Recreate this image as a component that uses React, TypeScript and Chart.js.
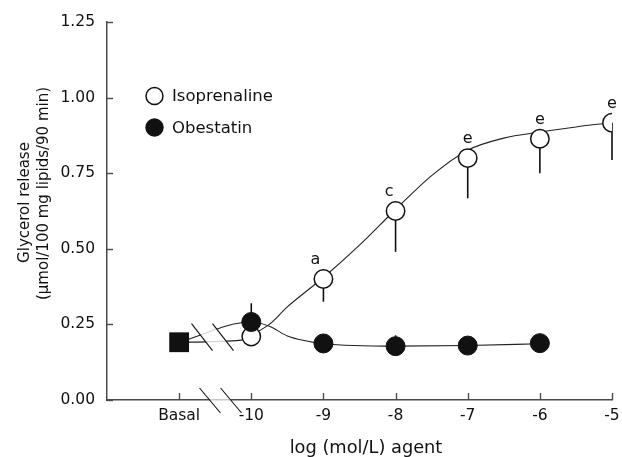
import React, { useEffect, useRef } from "react";
import { Chart, registerables } from "chart.js";

Chart.register(...registerables);

const FONT = "'DejaVu Sans', Verdana, sans-serif";
const INK = "#111";
const AXIS = "#4a4a4a";

// Axis ticks
const xTicks = [-11, -10, -9, -8, -7, -6, -5];
const xTickLabels = ["Basal", "-10", "-9", "-8", "-7", "-6", "-5"];
const yTicks = [0, 0.25, 0.5, 0.75, 1.0, 1.25];
const yTickLabels = ["0.00", "0.25", "0.50", "0.75", "1.00", "1.25"];

// Isoprenaline (open circles)
const isoLog = [-10, -9, -8, -7, -6, -5];
const isoMean = [0.21, 0.4, 0.625, 0.8, 0.864, 0.917];
const isoSem = [0, 0.075, 0.135, 0.133, 0.114, 0.123];
const isoSig = ["", "a", "c", "e", "e", "e"];

// Obestatin (filled circles)
const obeLog = [-10, -9, -8, -7, -6];
const obeMean = [0.258, 0.187, 0.178, 0.18, 0.188];
const obeSem = [0.062, 0, 0.036, 0, 0];

// Basal (filled square)
const basalLog = [-11];
const basalMean = [0.191];

// Fitted curves
const isoFitX = [-11, -10.14, -10, -9.75, -9.5, -9.25, -9, -8.5, -8, -7.5, -7, -6.5, -6, -5.5, -5];
const isoFitY = [0.191, 0.198, 0.215, 0.25, 0.308, 0.357, 0.405, 0.512, 0.63, 0.742, 0.826, 0.866, 0.886, 0.903, 0.917];
const obeFitX = [-11, -10, -9.75, -9.5, -9.25, -9, -8, -7, -6];
const obeFitY = [0.191, 0.258, 0.244, 0.212, 0.196, 0.186, 0.178, 0.18, 0.186];

const legendLabels = ["Isoprenaline", "Obestatin"];
const xTitle = "log (mol/L) agent";
const yTitle = ["Glycerol release", "(\u03bcmol/100 mg lipids/90 min)"];

// Break marks positions (in axis units)
const breakDataX = [-10.683, -10.392];
const breakDataY = 0.208;
const breakAxisX = [-10.572, -10.28];

const pts = (xs: number[], ys: number[]) => xs.map((x, i) => ({ x, y: ys[i] }));

const decorPlugin = {
  id: "decor",
  beforeDatasetsDraw(chart: any) {
    const { ctx, scales } = chart;
    const x = scales.x;
    const y = scales.y;
    ctx.save();
    ctx.strokeStyle = INK;
    ctx.lineWidth = 1.6;
    isoLog.forEach((d, i) => {
      if (!isoSem[i]) return;
      const px = x.getPixelForValue(d);
      ctx.beginPath();
      ctx.moveTo(px, y.getPixelForValue(isoMean[i]));
      ctx.lineTo(px, y.getPixelForValue(isoMean[i] - isoSem[i]));
      ctx.stroke();
    });
    obeLog.forEach((d, i) => {
      if (!obeSem[i]) return;
      const px = x.getPixelForValue(d);
      ctx.beginPath();
      ctx.moveTo(px, y.getPixelForValue(obeMean[i]));
      ctx.lineTo(px, y.getPixelForValue(obeMean[i] + obeSem[i]));
      ctx.stroke();
    });
    ctx.restore();
  },
  afterDatasetsDraw(chart: any) {
    const { ctx, scales } = chart;
    const x = scales.x;
    const y = scales.y;
    // fade the connecting lines inside the break
    const bx0 = x.getPixelForValue(breakDataX[0]);
    const bx1 = x.getPixelForValue(breakDataX[1]);
    const by = y.getPixelForValue(breakDataY);
    ctx.save();
    ctx.fillStyle = "rgba(255,255,255,0.8)";
    ctx.beginPath();
    ctx.moveTo(bx0 - 10, by - 13);
    ctx.lineTo(bx1 - 10, by - 13);
    ctx.lineTo(bx1 + 10, by + 13);
    ctx.lineTo(bx0 + 10, by + 13);
    ctx.closePath();
    ctx.fill();
    ctx.restore();
  },
  afterDraw(chart: any) {
    const { ctx, scales, chartArea } = chart;
    const x = scales.x;
    const y = scales.y;
    ctx.save();
    // break slashes on the data lines
    ctx.strokeStyle = INK;
    ctx.lineWidth = 1.1;
    const by = y.getPixelForValue(breakDataY);
    breakDataX.forEach((v) => {
      const px = x.getPixelForValue(v);
      ctx.beginPath();
      ctx.moveTo(px - 10.5, by - 13.5);
      ctx.lineTo(px + 10.5, by + 13.5);
      ctx.stroke();
    });
    // axis break
    const ax0 = x.getPixelForValue(breakAxisX[0]);
    const ax1 = x.getPixelForValue(breakAxisX[1]);
    const ay = chartArea.bottom;
    ctx.strokeStyle = "rgba(255,255,255,0.7)";
    ctx.lineWidth = 2;
    ctx.beginPath();
    ctx.moveTo(ax0, ay);
    ctx.lineTo(ax1, ay);
    ctx.stroke();
    ctx.strokeStyle = INK;
    ctx.lineWidth = 1.1;
    [ax0, ax1].forEach((px) => {
      ctx.beginPath();
      ctx.moveTo(px - 10.5, ay - 12);
      ctx.lineTo(px + 10.5, ay + 13);
      ctx.stroke();
    });
    // inward tick marks
    ctx.strokeStyle = AXIS;
    ctx.lineWidth = 1.4;
    xTicks.forEach((v) => {
      const px = Math.round(x.getPixelForValue(v)) + 0.5;
      ctx.beginPath();
      ctx.moveTo(px, chartArea.bottom);
      ctx.lineTo(px, chartArea.bottom - 7);
      ctx.stroke();
    });
    yTicks.forEach((v) => {
      const py = Math.round(y.getPixelForValue(v)) + 0.5;
      ctx.beginPath();
      ctx.moveTo(chartArea.left, py);
      ctx.lineTo(chartArea.left + 6, py);
      ctx.stroke();
    });
    // significance letters
    ctx.fillStyle = INK;
    ctx.font = `16px ${FONT}`;
    ctx.textAlign = "center";
    ctx.textBaseline = "alphabetic";
    const sigShift: Record<string, number> = { a: -8, c: -6.5, e: 0 };
    isoLog.forEach((d, i) => {
      const s = isoSig[i];
      if (!s) return;
      ctx.fillText(s, x.getPixelForValue(d) + (sigShift[s] || 0), y.getPixelForValue(isoMean[i]) - 15);
    });
    // legend
    ctx.font = `16.5px ${FONT}`;
    ctx.textAlign = "left";
    ctx.textBaseline = "middle";
    const lx = chartArea.left + 47.5;
    const ly = [chartArea.top + 74, chartArea.top + 105.5];
    ctx.lineWidth = 1.5;
    ctx.strokeStyle = INK;
    ctx.fillStyle = "#fff";
    ctx.beginPath();
    ctx.arc(lx, ly[0], 8.5, 0, Math.PI * 2);
    ctx.fill();
    ctx.stroke();
    ctx.fillStyle = INK;
    ctx.beginPath();
    ctx.arc(lx, ly[1], 9.2, 0, Math.PI * 2);
    ctx.fill();
    ctx.fillText(legendLabels[0], lx + 17.5, ly[0] + 1);
    ctx.fillText(legendLabels[1], lx + 17.5, ly[1] + 1);
    // axis titles
    ctx.textAlign = "center";
    ctx.textBaseline = "alphabetic";
    ctx.font = `17.8px ${FONT}`;
    ctx.fillText(xTitle, (chartArea.left + chartArea.right) / 2 + 6.5, 453);
    ctx.font = `15px ${FONT}`;
    const yMid = (chartArea.top + chartArea.bottom) / 2;
    const lineCenters = [yMid - 8.5, yMid - 17.5];
    const baselines = [28.5, 47.5];
    yTitle.forEach((t, i) => {
      ctx.save();
      ctx.translate(baselines[i], lineCenters[i]);
      ctx.rotate(-Math.PI / 2);
      ctx.fillText(t, 0, 0);
      ctx.restore();
    });
    ctx.restore();
  },
};

export default function App() {
  const ref = useRef<HTMLCanvasElement | null>(null);

  useEffect(() => {
    document.body.style.margin = "0";
    const canvas = ref.current;
    if (!canvas) return;
    const tickFont = { family: FONT, size: 15.5 };
    const chart = new Chart(canvas, {
      type: "line",
      data: {
        datasets: [
          {
            label: "Basal",
            data: pts(basalLog, basalMean),
            showLine: false,
            pointStyle: "rect",
            pointRadius: 14,
            pointBackgroundColor: INK,
            pointBorderColor: INK,
            pointBorderWidth: 0,
            order: 0,
          },
          {
            label: "Obestatin",
            data: pts(obeLog, obeMean),
            showLine: false,
            pointStyle: "circle",
            pointRadius: 9.5,
            pointBackgroundColor: INK,
            pointBorderColor: INK,
            pointBorderWidth: 1,
            order: 1,
          },
          {
            label: "Isoprenaline",
            data: pts(isoLog, isoMean),
            showLine: false,
            pointStyle: "circle",
            pointRadius: 9.2,
            pointBackgroundColor: "#fff",
            pointBorderColor: INK,
            pointBorderWidth: 1.5,
            order: 2,
          },
          {
            label: "Isoprenaline fit",
            data: pts(isoFitX, isoFitY),
            borderColor: "#222",
            borderWidth: 1.1,
            pointRadius: 0,
            cubicInterpolationMode: "monotone",
            fill: false,
            order: 5,
          },
          {
            label: "Obestatin fit",
            data: pts(obeFitX, obeFitY),
            borderColor: "#222",
            borderWidth: 1.1,
            pointRadius: 0,
            cubicInterpolationMode: "monotone",
            fill: false,
            order: 6,
          },
        ],
      },
      options: {
        animation: false,
        responsive: false,
        devicePixelRatio: 1,
        layout: { autoPadding: false, padding: { top: 22, right: 10, left: 0, bottom: 0 } },
        plugins: {
          legend: { display: false },
          tooltip: { enabled: false },
        },
        scales: {
          x: {
            type: "linear",
            min: -12,
            max: -5,
            afterBuildTicks: (s: any) => {
              s.ticks = xTicks.map((v) => ({ value: v }));
            },
            afterFit: (s: any) => {
              s.height = 57;
              s.paddingLeft = 0;
              s.paddingRight = 0;
            },
            grid: { display: false, drawTicks: false },
            border: { display: true, color: AXIS, width: 1.5 },
            ticks: {
              autoSkip: false,
              maxRotation: 0,
              padding: 7,
              color: INK,
              font: tickFont,
              callback: (v: any) => {
                const i = xTicks.indexOf(Number(v));
                return i >= 0 ? xTickLabels[i] : "";
              },
            },
            title: { display: false },
          },
          y: {
            type: "linear",
            min: 0,
            max: 1.25,
            afterBuildTicks: (s: any) => {
              s.ticks = yTicks.map((v) => ({ value: v }));
            },
            afterFit: (s: any) => {
              s.width = 107;
              s.paddingTop = 0;
              s.paddingBottom = 0;
            },
            grid: { display: false, drawTicks: false },
            border: { display: true, color: AXIS, width: 1.5 },
            ticks: {
              padding: 12,
              color: INK,
              font: tickFont,
              callback: (v: any) => {
                const i = yTicks.findIndex((t) => Math.abs(t - Number(v)) < 1e-9);
                return i >= 0 ? yTickLabels[i] : "";
              },
            },
            title: { display: false },
          },
        },
      },
      plugins: [decorPlugin],
    } as any);
    return () => chart.destroy();
  }, []);

  return (
    <div style={{ width: 622, height: 457 }}>
      <canvas ref={ref} width={622} height={457} style={{ display: "block" }} />
    </div>
  );
}
